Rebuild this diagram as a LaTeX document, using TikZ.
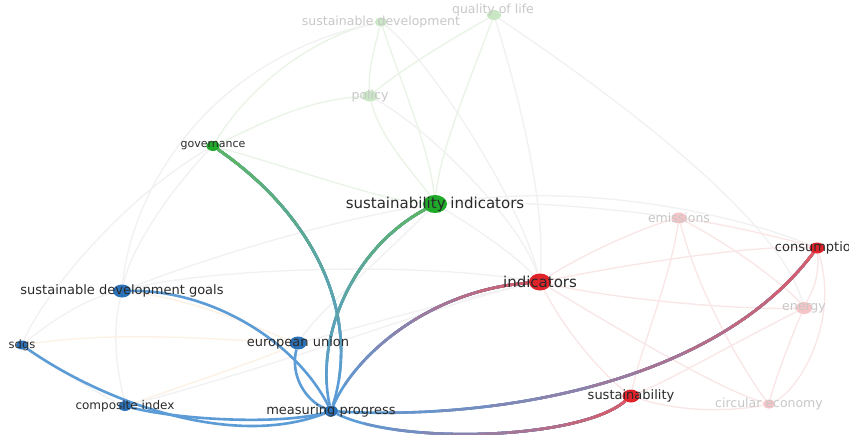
\documentclass[tikz,border=0pt]{standalone}
\usepackage{fontspec}
\setmainfont{DejaVu Sans}
\usetikzlibrary{shapes.geometric}
\pgfdeclarelayer{bg}
\pgfsetlayers{bg,main}
\definecolor{nblue}{HTML}{2C72B8}
\definecolor{ngreen}{HTML}{1FAA2A}
\definecolor{nred}{HTML}{E0222B}
\definecolor{eblue}{HTML}{5B9BD6}
\definecolor{egreen}{HTML}{5DB368}
\definecolor{ered}{HTML}{DD5A66}
\definecolor{fgreen}{HTML}{C9E7C4}
\definecolor{fred}{HTML}{F6C4C6}
\definecolor{ftext}{HTML}{C8C8C8}
\definecolor{ltext}{HTML}{2A2A2A}
\definecolor{fgray}{HTML}{F1F1F1}
\definecolor{fpink}{HTML}{FAE6E6}
\definecolor{flgreen}{HTML}{E9F4E6}
\definecolor{forange}{HTML}{FCF1E4}
\tikzset{
  dot/.style={ellipse, inner sep=0pt, draw=none},
  sz/.style 2 args={minimum width=#1pt, minimum height=#2pt},
  lbl/.style={text=ltext, inner sep=0pt, font=\fontsize{13}{13}\selectfont},
  flbl/.style={text=ftext, inner sep=0pt, font=\fontsize{12.5}{12.5}\selectfont},
  edge/.style={line width=2.6pt},
  faint/.style={line width=1.3pt, draw=fgray},
}
\newcommand\gedge[7]{%
  \foreach \k in {0,...,10}{%
    \pgfmathsetmacro\goff{#7*\k/11}%
    \pgfmathtruncatemacro\gpc{\k*10}%
    \draw[edge, draw=#6!\gpc!#5, dash pattern=on 0pt off \goff pt on 3000pt off 1pt] (#1) .. controls #2 and #3 .. (#4);
  }%
}
\begin{document}
\begin{tikzpicture}[x=1pt,y=-1pt]
\useasboundingbox (0,0) rectangle (849,434);
\begin{pgfonlayer}{bg}
  \fill[white] (0,0) rectangle (849,434);
\end{pgfonlayer}
\clip (0,0) rectangle (849,434);
% nodes
\node[dot, sz={14}{11}, fill=nblue] (mp) at (331,411) {};
\node[dot, sz={17}{13}, fill=nblue] (eu) at (298,343) {};
\node[dot, sz={18}{13}, fill=nblue] (sdg) at (122,291) {};
\node[dot, sz={12}{9}, fill=nblue] (sdgs) at (22,345) {};
\node[dot, sz={13}{10}, fill=nblue] (ci) at (125,406) {};
\node[dot, sz={13}{10}, fill=ngreen] (gov) at (213,146) {};
\node[dot, sz={24}{18}, fill=ngreen] (si) at (435,204) {};
\node[dot, sz={22}{17}, fill=nred] (ind) at (540,282) {};
\node[dot, sz={17}{13}, fill=nred] (sus) at (631,396) {};
\node[dot, sz={15}{11}, fill=nred] (cons) at (817,248) {};
\node[dot, sz={15}{11}, fill=fgreen] (pol) at (370,96) {};
\node[dot, sz={12}{9}, fill=fgreen] (sd) at (381,22) {};
\node[dot, sz={14}{10}, fill=fgreen] (qol) at (494,15) {};
\node[dot, sz={15}{11}, fill=fred] (emi) at (679,218) {};
\node[dot, sz={16}{12}, fill=fred] (ene) at (804,308) {};
\node[dot, sz={12}{9}, fill=fred] (ce) at (769,404) {};
% labels
\node[lbl] (mp-l) at (mp) {measuring progress};
\node[lbl] (eu-l) at (eu) {european union};
\node[lbl] (sdg-l) at (sdg) {sustainable development goals};
\node[lbl, font=\fontsize{11.5}{11.5}\selectfont] (sdgs-l) at (sdgs) {sdgs};
\node[lbl, font=\fontsize{12}{12}\selectfont] (ci-l) at (ci) {composite index};
\node[lbl, font=\fontsize{11}{11}\selectfont] (gov-l) at (gov) {governance};
\node[lbl, font=\fontsize{15}{15}\selectfont] (si-l) at (si) {sustainability indicators};
\node[lbl, font=\fontsize{15}{15}\selectfont] (ind-l) at (ind) {indicators};
\node[lbl] (sus-l) at (sus) {sustainability};
\node[lbl] (cons-l) at (cons) {consumption};
\node[flbl] (pol-l) at (pol) {policy};
\node[flbl] (sd-l) at (sd) {sustainable development};
\node[flbl] (qol-l) at (493,10) {quality of life};
\node[flbl] (emi-l) at (emi) {emissions};
\node[flbl] (ene-l) at (ene) {energy};
\node[flbl] (ce-l) at (ce) {circular economy};
\begin{pgfonlayer}{bg}
  % faint edges
  \draw[faint, draw=flgreen] (sd) .. controls (300,40) and (240,100) .. (gov);
  \draw[faint] (sd) .. controls (200,60) and (130,200) .. (sdg);
  \draw[faint, draw=flgreen] (sd) .. controls (374,50) and (368,70) .. (pol);
  \draw[faint, draw=flgreen] (sd) .. controls (400,80) and (430,150) .. (si);
  \draw[faint] (sd) .. controls (430,60) and (520,200) .. (ind);
  \draw[faint, draw=flgreen] (qol) .. controls (470,80) and (440,150) .. (si);
  \draw[faint] (qol) .. controls (520,100) and (545,200) .. (ind);
  \draw[faint, draw=flgreen] (qol) .. controls (450,40) and (400,70) .. (pol);
  \draw[faint] (qol) .. controls (620,100) and (780,220) .. (ene);
  \draw[faint, draw=flgreen] (pol) .. controls (380,140) and (420,180) .. (si);
  \draw[faint, draw=flgreen] (pol) .. controls (300,100) and (250,130) .. (gov);
  \draw[faint] (pol) .. controls (430,130) and (520,220) .. (ind);
  \draw[faint] (gov) .. controls (170,190) and (130,250) .. (sdg);
  \draw[faint, draw=flgreen] (gov) .. controls (300,170) and (380,200) .. (si);
  \draw[faint] (gov) .. controls (120,200) and (40,300) .. (sdgs);
  \draw[faint] (si) .. controls (480,230) and (520,260) .. (ind);
  \draw[faint] (si) .. controls (530,200) and (620,210) .. (emi);
  \draw[faint] (si) .. controls (600,180) and (750,220) .. (cons);
  \draw[faint] (si) .. controls (330,220) and (200,260) .. (sdg);
  \draw[faint] (si) .. controls (380,260) and (320,310) .. (eu);
  \draw[faint, draw=fpink] (ind) .. controls (590,250) and (650,225) .. (emi);
  \draw[faint, draw=fpink] (ind) .. controls (620,300) and (740,310) .. (ene);
  \draw[faint, draw=fpink] (ind) .. controls (620,330) and (720,390) .. (ce);
  \draw[faint, draw=fpink] (ind) .. controls (570,340) and (610,380) .. (sus);
  \draw[faint, draw=fpink] (ind) .. controls (650,260) and (760,245) .. (cons);
  \draw[faint] (ind) .. controls (400,260) and (200,270) .. (sdg);
  \draw[faint] (ind) .. controls (450,300) and (350,330) .. (eu);
  \draw[faint, draw=fpink] (emi) .. controls (730,225) and (790,240) .. (cons);
  \draw[faint, draw=fpink] (emi) .. controls (740,250) and (790,290) .. (ene);
  \draw[faint, draw=fpink] (emi) .. controls (670,280) and (640,350) .. (sus);
  \draw[faint, draw=fpink] (emi) .. controls (700,300) and (750,380) .. (ce);
  \draw[faint, draw=fpink] (cons) .. controls (820,280) and (810,295) .. (ene);
  \draw[faint, draw=fpink] (cons) .. controls (840,320) and (800,390) .. (ce);
  \draw[faint, draw=fpink] (ene) .. controls (790,340) and (775,380) .. (ce);
  \draw[faint, draw=fpink] (ene) .. controls (740,340) and (670,380) .. (sus);
  \draw[faint, draw=fpink] (sus) .. controls (680,412) and (730,412) .. (ce);
  \draw[faint] (sdg) .. controls (80,300) and (40,330) .. (sdgs);
  \draw[faint, draw=forange] (sdg) .. controls (200,300) and (260,330) .. (eu);
  \draw[faint] (sdg) .. controls (110,340) and (120,380) .. (ci);
  \draw[faint, draw=forange] (sdgs) .. controls (120,330) and (220,340) .. (eu);
  \draw[faint, draw=forange] (ci) .. controls (200,380) and (260,360) .. (eu);
  \draw[faint] (ci) .. controls (300,360) and (450,300) .. (ind);
  \draw[faint] (sdgs) .. controls (60,370) and (100,395) .. (ci);
  % strong edges
  \draw[edge, draw=eblue] (sdg) .. controls (210,290) and (295,340) .. (mp);
  \draw[edge, draw=eblue] (eu) .. controls (290,375) and (305,400) .. (mp);
  \draw[edge, draw=eblue] (sdgs) .. controls (100,400) and (230,450) .. (mp);
  \draw[edge, draw=eblue] (ci) .. controls (180,420) and (280,425) .. (mp);
  \gedge{mp}{(360,320)}{(320,220)}{gov}{eblue}{egreen}{300}
  \gedge{mp}{(315,340)}{(350,250)}{si}{eblue}{egreen}{240}
  \gedge{mp}{(400,445)}{(580,440)}{sus}{eblue}{ered}{320}
  \gedge{mp}{(355,355)}{(430,290)}{ind}{eblue}{ered}{260}
  \gedge{mp}{(480,420)}{(710,390)}{cons}{eblue}{ered}{560}
\end{pgfonlayer}
\end{tikzpicture}
\end{document}
